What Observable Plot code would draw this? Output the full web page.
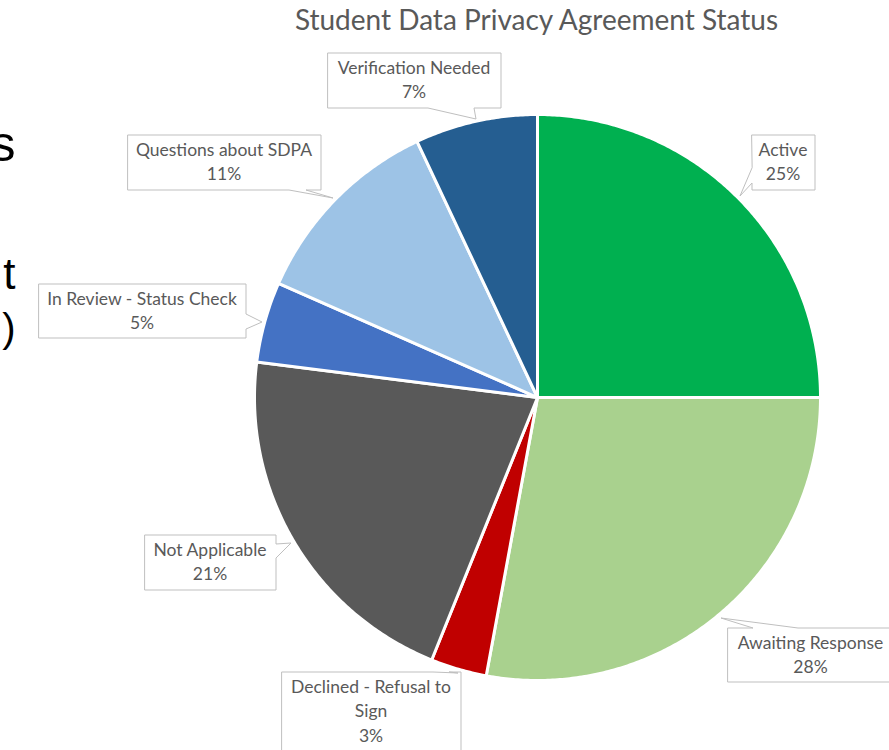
<!DOCTYPE html>
<html><head><meta charset="utf-8">
<script src="https://cdn.jsdelivr.net/npm/d3@7"></script>
<script src="https://cdn.jsdelivr.net/npm/@observablehq/plot@0.6"></script>
<style>body{margin:0;background:#fff;overflow:hidden}</style>
</head><body><div id="chart"></div>
<script>
// ---- data ----
const categories = ["Active","Awaiting Response","Declined - Refusal to Sign","Not Applicable","In Review - Status Check","Questions about SDPA","Verification Needed"];
const shares = [25.0, 27.9, 3.2, 20.9, 4.6, 11.4, 7.0];
const labelNames = ["Active","Awaiting Response","Declined - Refusal to\nSign","Not Applicable","In Review - Status Check","Questions about SDPA","Verification Needed"];
const colors = ["#00B050","#A9D18E","#C00000","#595959","#4472C4","#9DC3E6","#255E91"];
const titleText = "Student Data Privacy Agreement Status";
const slideFragments = ["s","t",")"];

// ---- layout ----
const W = 889, H = 750, cx = 537, cy = 397, R = 283;
const calloutLayout = [
  {box:[751,134,814,189], side:"left",   base:[167,182]},
  {box:[727,627,895,681], side:"top",    base:[752,797]},
  {box:[281,671,460,770], side:"top",    base:[432,448]},
  {box:[144,534,275,589], side:"right",  base:[543,557]},
  {box:[38,283,245,337],  side:"right",  base:[313,328]},
  {box:[127,134,320,189], side:"bottom", base:[288,305]},
  {box:[327,52,500,107],  side:"bottom", base:[427,473]}
];
const fragLayout = [{y:160,size:50},{y:288,size:44},{y:341,size:40}];

const data = categories.map((c,i)=>({name:c, share:shares[i], label:labelNames[i], color:colors[i]}));
const arcs = d3.pie().sort(null).value(d=>d.share)(data);
const pt = (a,r)=>({x: cx + r*Math.sin(a), y: cy - r*Math.cos(a)});

// slice polygons
const slicePolys = arcs.map(a=>{
  const pts=[{x:cx,y:cy}];
  const n = Math.max(4, Math.ceil((a.endAngle-a.startAngle)/(Math.PI/360)));
  for(let k=0;k<=n;k++){ pts.push(pt(a.startAngle+(a.endAngle-a.startAngle)*k/n, R)); }
  return {name:a.data.name, color:a.data.color, pts};
});

// callout polygons
const lineGap = 24.5;
const callouts = arcs.map((a,i)=>{
  const L = calloutLayout[i];
  const [x0,y0,x1,y1] = L.box, [b1,b2] = L.base;
  const tip = pt((a.startAngle+a.endAngle)/2, R+3);
  let pts;
  if(L.side==="top") pts=[[x0,y0],[b1,y0],[tip.x,tip.y],[b2,y0],[x1,y0],[x1,y1],[x0,y1]];
  else if(L.side==="right") pts=[[x0,y0],[x1,y0],[x1,b1],[tip.x,tip.y],[x1,b2],[x1,y1],[x0,y1]];
  else if(L.side==="bottom") pts=[[x0,y0],[x1,y0],[x1,y1],[b2,y1],[tip.x,tip.y],[b1,y1],[x0,y1]];
  else pts=[[x0,y0],[x1,y0],[x1,y1],[x0,y1],[x0,b2],[tip.x,tip.y],[x0,b1]];
  const lines = a.data.label.split("\n").length + 1;
  return {pts: pts.map(p=>({x:Math.round(p[0])+0.5,y:Math.round(p[1])+0.5})),
          text: a.data.label + "\n" + Math.round(a.data.share) + "%",
          tx: i===1 ? 810 : (x0+x1)/2,
          ty: y0 + 3 + lines*lineGap/2 - 2};
});

const marks = [];
for(const s of slicePolys){
  marks.push(Plot.line(s.pts,{x:"x",y:"y",curve:"linear-closed",fill:s.color,stroke:"white",strokeWidth:3,strokeLinejoin:"round"}));
}
for(const c of callouts){
  marks.push(Plot.line(c.pts,{x:"x",y:"y",curve:"linear-closed",fill:"white",stroke:"#BFBFBF",strokeWidth:1}));
}
marks.push(Plot.text(callouts,{x:"tx",y:"ty",text:"text",fontSize:17.5,lineHeight:lineGap/17.5,fill:"#595959",fontFamily:"Lato"}));
marks.push(Plot.text([titleText],{x:536,y:21,text:d=>d,fontSize:28,fill:"#595959",fontFamily:"Lato"}));
marks.push(Plot.text(slideFragments.map((t,i)=>({t, y:fragLayout[i].y, size:fragLayout[i].size})),
  {x:15,y:"y",text:"t",textAnchor:"end",lineAnchor:"bottom",fontSize:d=>d.size,fill:"#000",fontFamily:"Liberation Sans"}));

const chart = Plot.plot({
  width: W, height: H, margin: 0,
  x: {domain:[0,W], range:[0,W], axis:null},
  y: {domain:[0,H], range:[0,H], axis:null},
  style: {background:"#fff"},
  marks
});
document.getElementById("chart").appendChild(chart);
</script>
</body></html>
